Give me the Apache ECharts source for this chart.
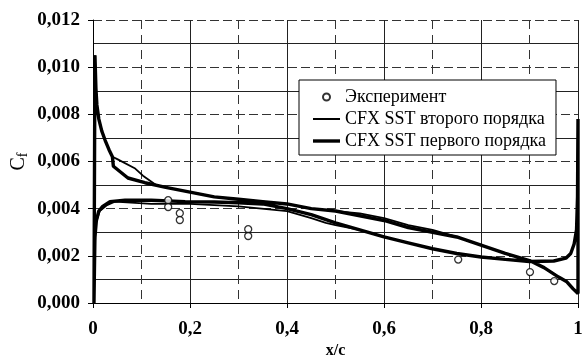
<!DOCTYPE html>
<html>
<head>
<meta charset="utf-8">
<script src="https://cdn.jsdelivr.net/npm/echarts@6/dist/echarts.min.js"></script>
<style>
  html, body { margin: 0; padding: 0; background: #fff; }
  #chart1 { width: 582px; height: 362px; }
</style>
</head>
<body>
<div id="chart1"></div>
<script>
  // подписи осей
  var xTickLabels = ['0', '0,2', '0,4', '0,6', '0,8', '1'];
  var yTickLabels = ['0,000', '0,002', '0,004', '0,006', '0,008', '0,010', '0,012'];

  // эксперимент
  var expX = [0.155, 0.155, 0.179, 0.179, 0.32, 0.32, 0.753, 0.901, 0.951];
  var expY = [0.00436, 0.00407, 0.00381, 0.00352, 0.00313, 0.00284, 0.00184, 0.00131, 0.00093];

  // CFX SST первого порядка: верхняя сторона (от задней кромки к передней), потом нижняя
  var firstX = [1.0, 1.0, 0.99, 0.977, 0.96, 0.93, 0.9, 0.85, 0.8, 0.75, 0.7, 0.65, 0.6, 0.55, 0.5, 0.45, 0.4, 0.35, 0.3, 0.25, 0.2, 0.15, 0.107, 0.072, 0.042, 0.04, 0.033, 0.025, 0.018, 0.012, 0.008, 0.006, 0.004,
                0.002, 0.003, 0.004, 0.007, 0.012, 0.02, 0.035, 0.066, 0.12, 0.19, 0.25, 0.3, 0.35, 0.4, 0.45, 0.5, 0.55, 0.6, 0.65, 0.7, 0.75, 0.8, 0.85, 0.9, 0.95, 0.975, 0.985, 0.992, 0.997, 0.999, 1.0];
  var firstY = [0.0078, 0.0004, 0.0006, 0.0009, 0.0011, 0.0015, 0.0018, 0.0021, 0.00245, 0.0028, 0.003, 0.0032, 0.0035, 0.0037, 0.0039, 0.004, 0.0042, 0.0043, 0.0044, 0.0045, 0.0047, 0.0049, 0.0051, 0.0053, 0.0058, 0.0062, 0.0065, 0.0069, 0.0073, 0.0078, 0.0084, 0.0091, 0.0105,
                0.0, 0.0015, 0.0028, 0.0035, 0.0039, 0.0041, 0.0043, 0.00436, 0.00436, 0.0043, 0.00428, 0.00425, 0.0042, 0.004, 0.00375, 0.0034, 0.0031, 0.0028, 0.00255, 0.0023, 0.0021, 0.00195, 0.00185, 0.00176, 0.00178, 0.0019, 0.0021, 0.0025, 0.0031, 0.0045, 0.0078];

  // CFX SST второго порядка
  var secondX = [1.0, 1.0, 0.99, 0.977, 0.96, 0.93, 0.9, 0.85, 0.8, 0.75, 0.7, 0.65, 0.6, 0.55, 0.5, 0.45, 0.4, 0.35, 0.3, 0.25, 0.2, 0.15, 0.13, 0.103, 0.087, 0.05, 0.04, 0.033, 0.025, 0.018, 0.012, 0.008, 0.006, 0.004,
                 0.002, 0.003, 0.006, 0.014, 0.029, 0.045, 0.12, 0.2, 0.3, 0.4, 0.45, 0.48, 0.5, 0.55, 0.6, 0.65, 0.7, 0.75, 0.8, 0.85, 0.9, 0.95, 0.975, 0.985, 0.992, 0.997, 0.999, 1.0];
  var secondY = [0.0078, 0.0004, 0.0006, 0.0009, 0.0011, 0.0015, 0.0018, 0.0021, 0.00245, 0.0028, 0.0031, 0.0033, 0.0036, 0.0038, 0.0039, 0.004, 0.0042, 0.0043, 0.0044, 0.0045, 0.0047, 0.0049, 0.005, 0.0054, 0.0057, 0.0061, 0.0062, 0.0065, 0.0069, 0.0073, 0.0078, 0.0084, 0.0091, 0.0105,
                 0.0, 0.002, 0.0034, 0.0039, 0.00415, 0.0043, 0.0042, 0.0042, 0.0041, 0.0039, 0.0036, 0.0034, 0.0033, 0.0031, 0.0028, 0.00255, 0.0023, 0.0021, 0.00195, 0.00185, 0.00176, 0.00178, 0.0019, 0.0021, 0.0025, 0.0031, 0.0045, 0.0078];

  function pairs(xs, ys) {
      var out = [];
      for (var i = 0; i < xs.length; i++) {
          out.push([xs[i], ys[i]]);
      }
      return out;
  }

  var myChart = echarts.init(document.getElementById('chart1'));

  var option = {
      backgroundColor: '#fff',
      animation: false,
      textStyle: { fontFamily: 'Liberation Serif' },
      grid: { left: 93, right: 4, top: 20, bottom: 59, outerBoundsMode: 'none', containLabel: false },
      legend: {
          orient: 'vertical',
          left: 299,
          top: 80,
          padding: [8, 10, 5, 14],
          itemGap: 4,
          itemWidth: 27,
          itemHeight: 7,
          backgroundColor: '#fff',
          borderColor: '#000',
          borderWidth: 1,
          borderRadius: 0,
          textStyle: { fontFamily: 'Liberation Serif', fontSize: 18, color: '#000' },
          data: [
              { name: 'Эксперимент' },
              // линия в легенде: тонкая / толстая
              { name: 'CFX SST второго порядка', icon: 'path://M0,0 L27,0 L27,2 L0,2 Z', itemStyle: { color: '#000' } },
              { name: 'CFX SST первого порядка', icon: 'path://M0,0 L27,0 L27,3.4 L0,3.4 Z', itemStyle: { color: '#000' } }
          ]
      },
      xAxis: {
          type: 'value',
          min: 0,
          max: 1,
          interval: 0.2,
          name: 'x/c',
          nameLocation: 'middle',
          nameGap: 40,
          nameMoveOverlap: false,
          nameTextStyle: { fontFamily: 'Liberation Serif', fontWeight: 'bold', fontSize: 16, color: '#000' },
          axisLine: { lineStyle: { color: '#000', width: 1 } },
          axisTick: { show: true, length: 5, lineStyle: { color: '#000' } },
          axisLabel: {
              margin: 17,
              fontFamily: 'Liberation Serif',
              fontWeight: 'bold',
              fontSize: 19,
              color: '#000',
              formatter: function (v) { return xTickLabels[Math.round(v / 0.2)]; }
          },
          splitLine: { show: true, lineStyle: { color: '#222', width: 1 } },
          minorTick: { show: true, splitNumber: 2, length: 0 },
          minorSplitLine: { show: true, lineStyle: { color: '#333', width: 1, type: [9, 6] } }
      },
      yAxis: {
          type: 'value',
          min: 0,
          max: 0.012,
          interval: 0.002,
          name: '{c|C}{s|f}',
          nameLocation: 'middle',
          nameRotate: 90,
          nameGap: 63,
          nameMoveOverlap: false,
          nameTextStyle: {
              rich: {
                  c: { fontFamily: 'Liberation Serif', fontSize: 20, color: '#000' },
                  s: { fontFamily: 'Liberation Serif', fontSize: 14, color: '#000', padding: [9, 0, 0, 0] }
              }
          },
          axisLine: { show: true, lineStyle: { color: '#000', width: 1 } },
          axisTick: { show: true, length: 5, lineStyle: { color: '#000' } },
          axisLabel: {
              margin: 13,
              fontFamily: 'Liberation Serif',
              fontWeight: 'bold',
              fontSize: 19,
              color: '#000',
              formatter: function (v) { return yTickLabels[Math.round(v / 0.002)]; }
          },
          splitLine: { show: true, lineStyle: { color: '#333', width: 1, type: [9, 4] } },
          minorTick: { show: true, splitNumber: 2, length: 0 },
          minorSplitLine: { show: true, lineStyle: { color: '#222', width: 1 } }
      },
      series: [
          {
              name: 'Эксперимент',
              type: 'scatter',
              symbol: 'circle',
              symbolSize: 7,
              itemStyle: { color: '#fff', borderColor: '#000', borderWidth: 1.3 },
              data: pairs(expX, expY),
              z: 5
          },
          {
              name: 'CFX SST второго порядка',
              type: 'line',
              symbol: 'none',
              itemStyle: { color: '#000' },
              lineStyle: { color: '#000', width: 1.8 },
              data: pairs(secondX, secondY),
              z: 3
          },
          {
              name: 'CFX SST первого порядка',
              type: 'line',
              symbol: 'none',
              itemStyle: { color: '#000' },
              lineStyle: { color: '#000', width: 3.4 },
              data: pairs(firstX, firstY),
              z: 4
          }
      ]
  };

  myChart.setOption(option);
</script>
</body>
</html>
